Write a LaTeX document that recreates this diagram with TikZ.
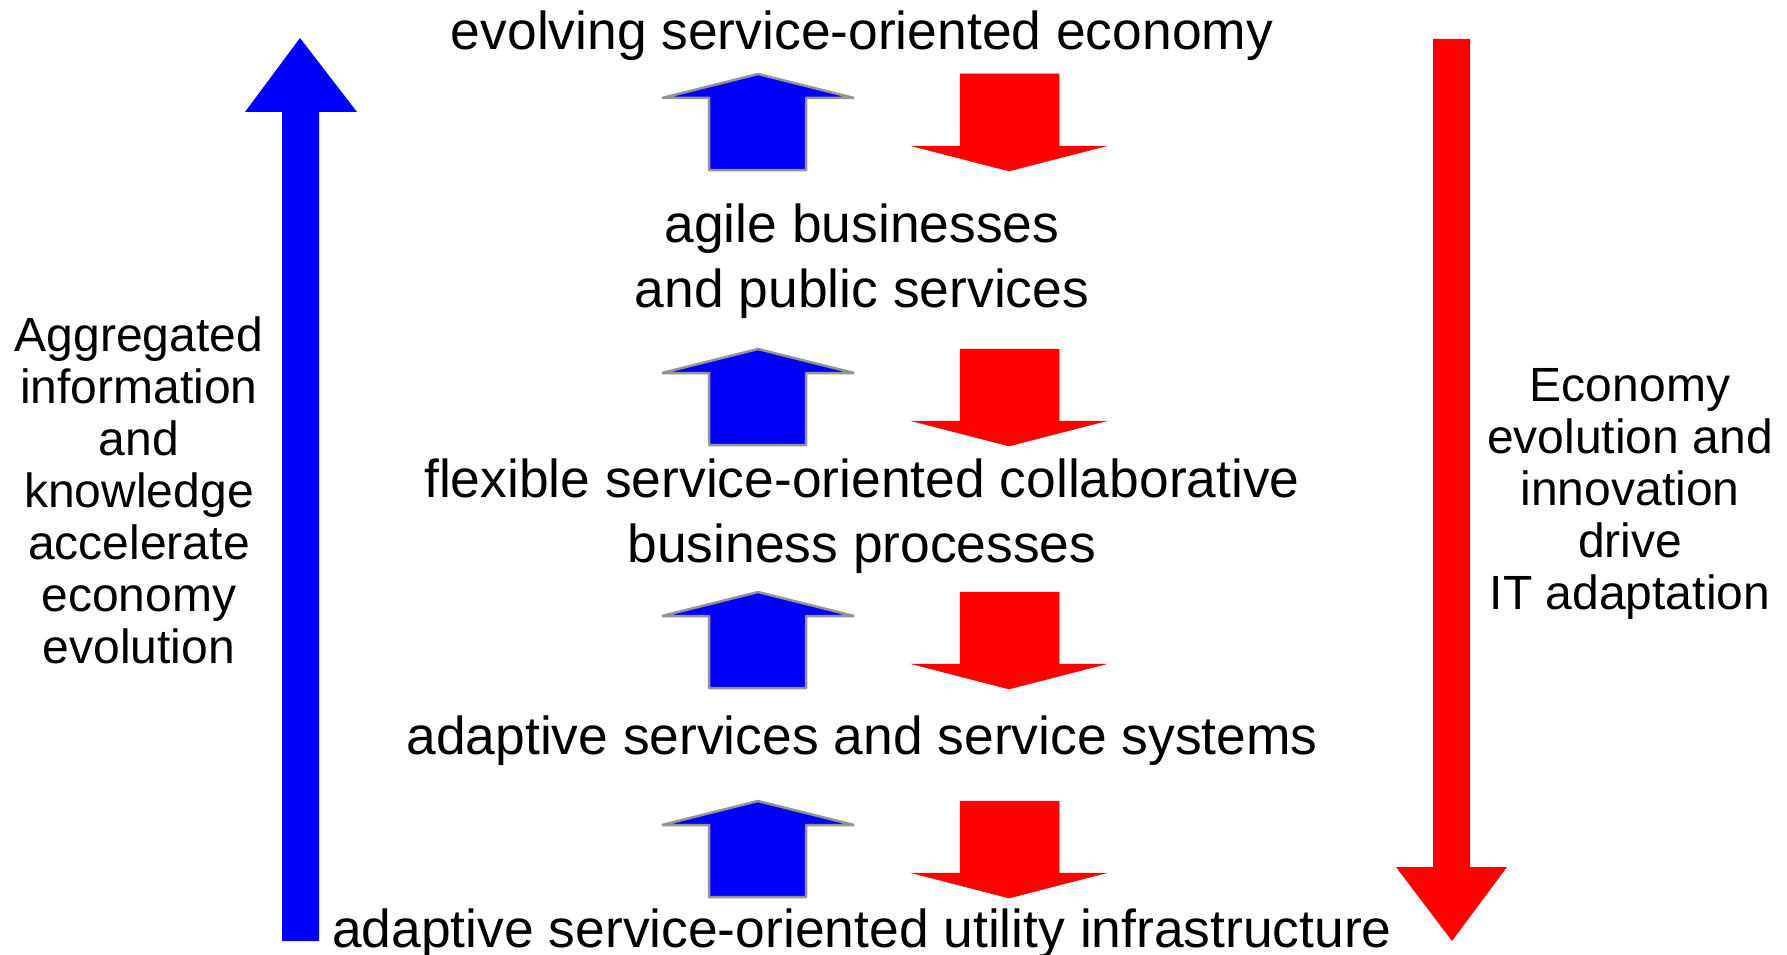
\documentclass[tikz,border=0pt]{standalone}
\usepackage{fontspec}
\setmainfont{Liberation Sans}
\usetikzlibrary{positioning}
\tikzstyle{level} = [inner sep=0pt, anchor=base, font=\fontsize{53.4}{65}\selectfont]
\tikzstyle{side} = [inner sep=0pt, align=center, font=\fontsize{48}{52}\selectfont]
\tikzstyle{uparr} = [fill=blue, draw=black!42, line width=2.5pt, line join=bevel]
\tikzstyle{downarr} = [fill=red, draw=red, line width=0.5pt]
\tikzstyle{bigup} = [fill=blue]
\tikzstyle{bigdown} = [fill=red]
% small arrow pair, #1 = top of the pair
\newcommand{\uppair}[1]{%
  \draw [uparr] (758,#1) -- (854,#1+24) -- (806,#1+24) -- (806,#1+96)
    -- (709,#1+96) -- (709,#1+24) -- (662,#1+24) -- cycle;
  \fill [downarr] (960,#1) -- (1059,#1) -- (1059,#1+72) -- (1106,#1+72)
    -- (1009,#1+97) -- (912,#1+72) -- (960,#1+72) -- cycle;}
\begin{document}
\begin{tikzpicture}[x=1pt, y=-1pt]
\useasboundingbox (0,0) rectangle (1787,955);

\node (econ) [level] at (862,50) {evolving service-oriented economy};
\node (agile) [level] at (862,242) {agile businesses};
\node (public) [level] at (862,307) {and public services};
\node (flex) [level] at (862,497) {flexible service-oriented collaborative};
\node (proc) [level] at (862,562) {business processes};
\node (adapt) [level] at (862,754) {adaptive services and service systems};
\node (infra) [level] at (862,947) {adaptive service-oriented utility infrastructure};

\node (left) [side] at (139,490) {Aggregated\\information\\and\\knowledge\\accelerate\\economy\\evolution};
\node (right) [side] at (1630,494) {Economy\\evolution and\\innovation\\drive\\IT adaptation};

% big arrows
\fill [bigup] (300,38) -- (357,112) -- (319,112) -- (319,941) -- (282,941)
  -- (282,112) -- (245,112) -- cycle;
\fill [bigdown] (1433,39) -- (1470,39) -- (1470,867) -- (1507,867)
  -- (1452,941) -- (1396,867) -- (1433,867) -- cycle;

% small arrows
\uppair{74}
\uppair{349}
\uppair{592}
\uppair{801}
\end{tikzpicture}
\end{document}
